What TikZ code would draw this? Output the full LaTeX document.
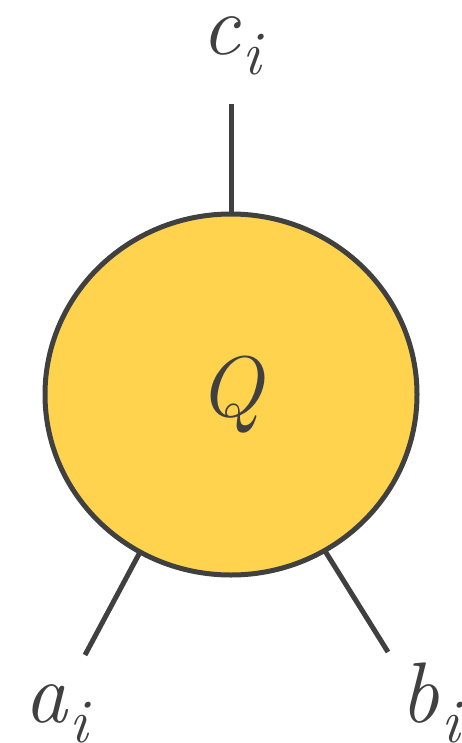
\documentclass[tikz,border=0pt]{standalone}
\usepackage{fontspec}
\usetikzlibrary{shapes.geometric}
\definecolor{qfill}{HTML}{FFD34E}
\definecolor{qline}{HTML}{404040}
\newcommand{\subvar}[2]{\itshape #1\kern2pt\raisebox{-20pt}{\fontsize{62}{70}\selectfont #2}}
\begin{document}
\begin{tikzpicture}[x=1pt,y=-1pt,
  wire/.style={draw=qline,line width=5pt},
  lbl/.style={text=qline,inner sep=0pt,anchor=base,font=\fontsize{86}{100}\selectfont}]
\useasboundingbox (0,0) rectangle (462,743);
\node[ellipse,draw=qline,fill=qfill,line width=5pt,inner sep=0pt,outer sep=0pt,
      minimum width=372pt,minimum height=361pt,text=qline,
      font=\fontsize{86}{100}\selectfont\itshape] (Q) at (231,394.5) {Q};
\coordinate (ct) at (231,104);
\coordinate (al) at (85,655);
\coordinate (br) at (388,652);
\draw[wire] (ct) -- (Q.north);
\draw[wire] (al) -- (Q.-120);
\draw[wire] (br) -- (Q.-59);
\node[lbl] (c) at (231,55) {\subvar{c}{i}};
\node[lbl] (a) at (56,722) {\subvar{a}{i}};
\node[lbl] (b) at (430,722) {\subvar{b}{i}};
\end{tikzpicture}
\end{document}
